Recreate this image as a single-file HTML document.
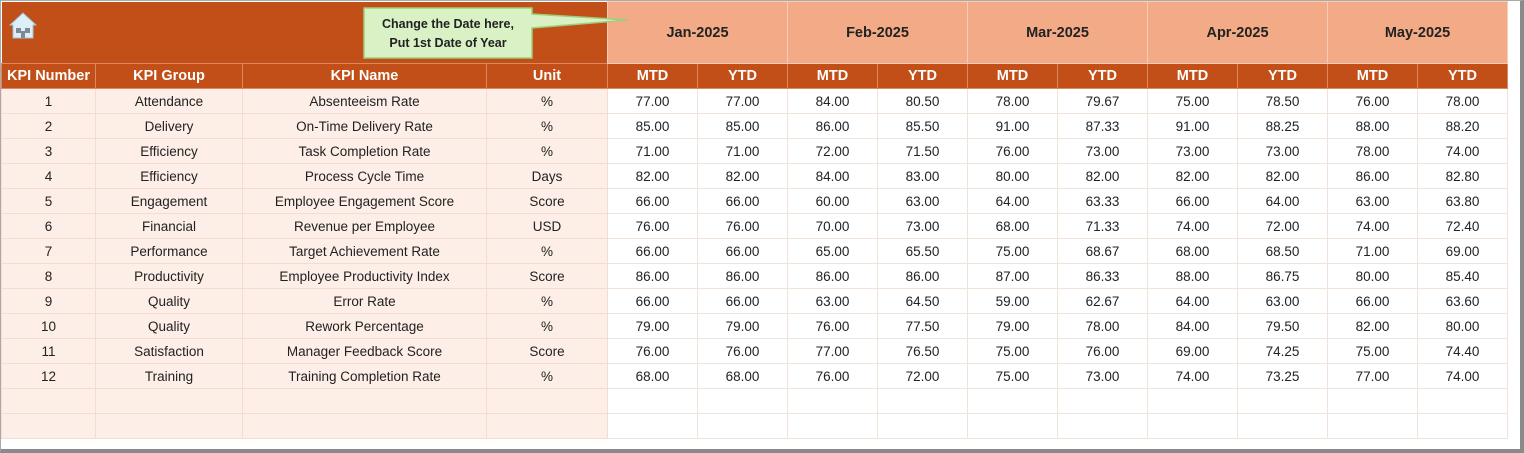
<!DOCTYPE html>
<html><head><style>
body{margin:0;width:1524px;height:453px;background:#fff;position:relative;overflow:hidden;font-family:"Liberation Sans",sans-serif}
.frame{position:absolute;left:0;top:0;width:1519px;height:448px;border-right:4px solid #8a8a8a;border-bottom:4px solid #8a8a8a;border-top:1px solid #aaa;border-left:1px solid #aaa;box-sizing:content-box}
table{position:absolute;left:1px;top:1px;border-collapse:collapse;table-layout:fixed}
td{padding:0;text-align:center;font-size:13.5px;color:#222;border:1px solid #eee0d8;height:24px;white-space:nowrap;overflow:hidden}
tr.top td{height:61px}
.dk{background:#c14f17;color:#fff;font-weight:bold;font-size:14.5px;border-color:#d98a60}
.lt{background:#f2aa87;color:#222;font-weight:bold;font-size:14.5px;border-color:#f7cdb7}
.pk{background:#fdeee7;border-color:#f4dcd0}
.w{background:#fff;border-color:#f0e4da}
</style></head><body>
<div class="frame"></div>
<table>
<colgroup><col style="width:94px"><col style="width:147px"><col style="width:244px"><col style="width:121px">
<col style="width:90px"><col style="width:90px"><col style="width:90px"><col style="width:90px"><col style="width:90px"><col style="width:90px"><col style="width:90px"><col style="width:90px"><col style="width:90px"><col style="width:90px"></colgroup>
<tr class="top"><td class="dk" colspan="4" style="border:none"></td>
<td class="lt" colspan="2">Jan-2025</td><td class="lt" colspan="2">Feb-2025</td><td class="lt" colspan="2">Mar-2025</td><td class="lt" colspan="2">Apr-2025</td><td class="lt" colspan="2">May-2025</td></tr>
<tr><td class="dk">KPI Number</td><td class="dk">KPI Group</td><td class="dk">KPI Name</td><td class="dk">Unit</td>
<td class="dk">MTD</td><td class="dk">YTD</td><td class="dk">MTD</td><td class="dk">YTD</td><td class="dk">MTD</td><td class="dk">YTD</td><td class="dk">MTD</td><td class="dk">YTD</td><td class="dk">MTD</td><td class="dk">YTD</td></tr>
<tr><td class="pk">1</td><td class="pk">Attendance</td><td class="pk">Absenteeism Rate</td><td class="pk">%</td><td class="w">77.00</td><td class="w">77.00</td><td class="w">84.00</td><td class="w">80.50</td><td class="w">78.00</td><td class="w">79.67</td><td class="w">75.00</td><td class="w">78.50</td><td class="w">76.00</td><td class="w">78.00</td></tr>
<tr><td class="pk">2</td><td class="pk">Delivery</td><td class="pk">On-Time Delivery Rate</td><td class="pk">%</td><td class="w">85.00</td><td class="w">85.00</td><td class="w">86.00</td><td class="w">85.50</td><td class="w">91.00</td><td class="w">87.33</td><td class="w">91.00</td><td class="w">88.25</td><td class="w">88.00</td><td class="w">88.20</td></tr>
<tr><td class="pk">3</td><td class="pk">Efficiency</td><td class="pk">Task Completion Rate</td><td class="pk">%</td><td class="w">71.00</td><td class="w">71.00</td><td class="w">72.00</td><td class="w">71.50</td><td class="w">76.00</td><td class="w">73.00</td><td class="w">73.00</td><td class="w">73.00</td><td class="w">78.00</td><td class="w">74.00</td></tr>
<tr><td class="pk">4</td><td class="pk">Efficiency</td><td class="pk">Process Cycle Time</td><td class="pk">Days</td><td class="w">82.00</td><td class="w">82.00</td><td class="w">84.00</td><td class="w">83.00</td><td class="w">80.00</td><td class="w">82.00</td><td class="w">82.00</td><td class="w">82.00</td><td class="w">86.00</td><td class="w">82.80</td></tr>
<tr><td class="pk">5</td><td class="pk">Engagement</td><td class="pk">Employee Engagement Score</td><td class="pk">Score</td><td class="w">66.00</td><td class="w">66.00</td><td class="w">60.00</td><td class="w">63.00</td><td class="w">64.00</td><td class="w">63.33</td><td class="w">66.00</td><td class="w">64.00</td><td class="w">63.00</td><td class="w">63.80</td></tr>
<tr><td class="pk">6</td><td class="pk">Financial</td><td class="pk">Revenue per Employee</td><td class="pk">USD</td><td class="w">76.00</td><td class="w">76.00</td><td class="w">70.00</td><td class="w">73.00</td><td class="w">68.00</td><td class="w">71.33</td><td class="w">74.00</td><td class="w">72.00</td><td class="w">74.00</td><td class="w">72.40</td></tr>
<tr><td class="pk">7</td><td class="pk">Performance</td><td class="pk">Target Achievement Rate</td><td class="pk">%</td><td class="w">66.00</td><td class="w">66.00</td><td class="w">65.00</td><td class="w">65.50</td><td class="w">75.00</td><td class="w">68.67</td><td class="w">68.00</td><td class="w">68.50</td><td class="w">71.00</td><td class="w">69.00</td></tr>
<tr><td class="pk">8</td><td class="pk">Productivity</td><td class="pk">Employee Productivity Index</td><td class="pk">Score</td><td class="w">86.00</td><td class="w">86.00</td><td class="w">86.00</td><td class="w">86.00</td><td class="w">87.00</td><td class="w">86.33</td><td class="w">88.00</td><td class="w">86.75</td><td class="w">80.00</td><td class="w">85.40</td></tr>
<tr><td class="pk">9</td><td class="pk">Quality</td><td class="pk">Error Rate</td><td class="pk">%</td><td class="w">66.00</td><td class="w">66.00</td><td class="w">63.00</td><td class="w">64.50</td><td class="w">59.00</td><td class="w">62.67</td><td class="w">64.00</td><td class="w">63.00</td><td class="w">66.00</td><td class="w">63.60</td></tr>
<tr><td class="pk">10</td><td class="pk">Quality</td><td class="pk">Rework Percentage</td><td class="pk">%</td><td class="w">79.00</td><td class="w">79.00</td><td class="w">76.00</td><td class="w">77.50</td><td class="w">79.00</td><td class="w">78.00</td><td class="w">84.00</td><td class="w">79.50</td><td class="w">82.00</td><td class="w">80.00</td></tr>
<tr><td class="pk">11</td><td class="pk">Satisfaction</td><td class="pk">Manager Feedback Score</td><td class="pk">Score</td><td class="w">76.00</td><td class="w">76.00</td><td class="w">77.00</td><td class="w">76.50</td><td class="w">75.00</td><td class="w">76.00</td><td class="w">69.00</td><td class="w">74.25</td><td class="w">75.00</td><td class="w">74.40</td></tr>
<tr><td class="pk">12</td><td class="pk">Training</td><td class="pk">Training Completion Rate</td><td class="pk">%</td><td class="w">68.00</td><td class="w">68.00</td><td class="w">76.00</td><td class="w">72.00</td><td class="w">75.00</td><td class="w">73.00</td><td class="w">74.00</td><td class="w">73.25</td><td class="w">77.00</td><td class="w">74.00</td></tr>
<tr><td class="pk"></td><td class="pk"></td><td class="pk"></td><td class="pk"></td><td class="w"></td><td class="w"></td><td class="w"></td><td class="w"></td><td class="w"></td><td class="w"></td><td class="w"></td><td class="w"></td><td class="w"></td><td class="w"></td></tr>
<tr><td class="pk"></td><td class="pk"></td><td class="pk"></td><td class="pk"></td><td class="w"></td><td class="w"></td><td class="w"></td><td class="w"></td><td class="w"></td><td class="w"></td><td class="w"></td><td class="w"></td><td class="w"></td><td class="w"></td></tr>
</table>
<svg style="position:absolute;left:0;top:0" width="700" height="70">
<polygon points="364,8 532,8 532,14 628,20 532,28 532,58 364,58" fill="#d9f1c5" stroke="#9ccf78" stroke-width="1.5"/>
<text x="448" y="28" text-anchor="middle" font-family="Liberation Sans" font-weight="bold" font-size="12.5" fill="#222">Change the Date here,</text>
<text x="448" y="47" text-anchor="middle" font-family="Liberation Sans" font-weight="bold" font-size="12.5" fill="#222">Put 1st Date of Year</text>
<g transform="translate(10,13)">
<polygon points="13,0 0,12 3,12 3,25 23,25 23,12 26,12" fill="#dfeff8" stroke="#9cc4dc" stroke-width="1"/>
<rect x="6" y="15" width="5" height="5" fill="#7a8a99"/><rect x="15" y="15" width="5" height="5" fill="#7a8a99"/>
<rect x="11" y="18" width="4" height="7" fill="#7a8a99"/>
</g>
</svg>
</body></html>
